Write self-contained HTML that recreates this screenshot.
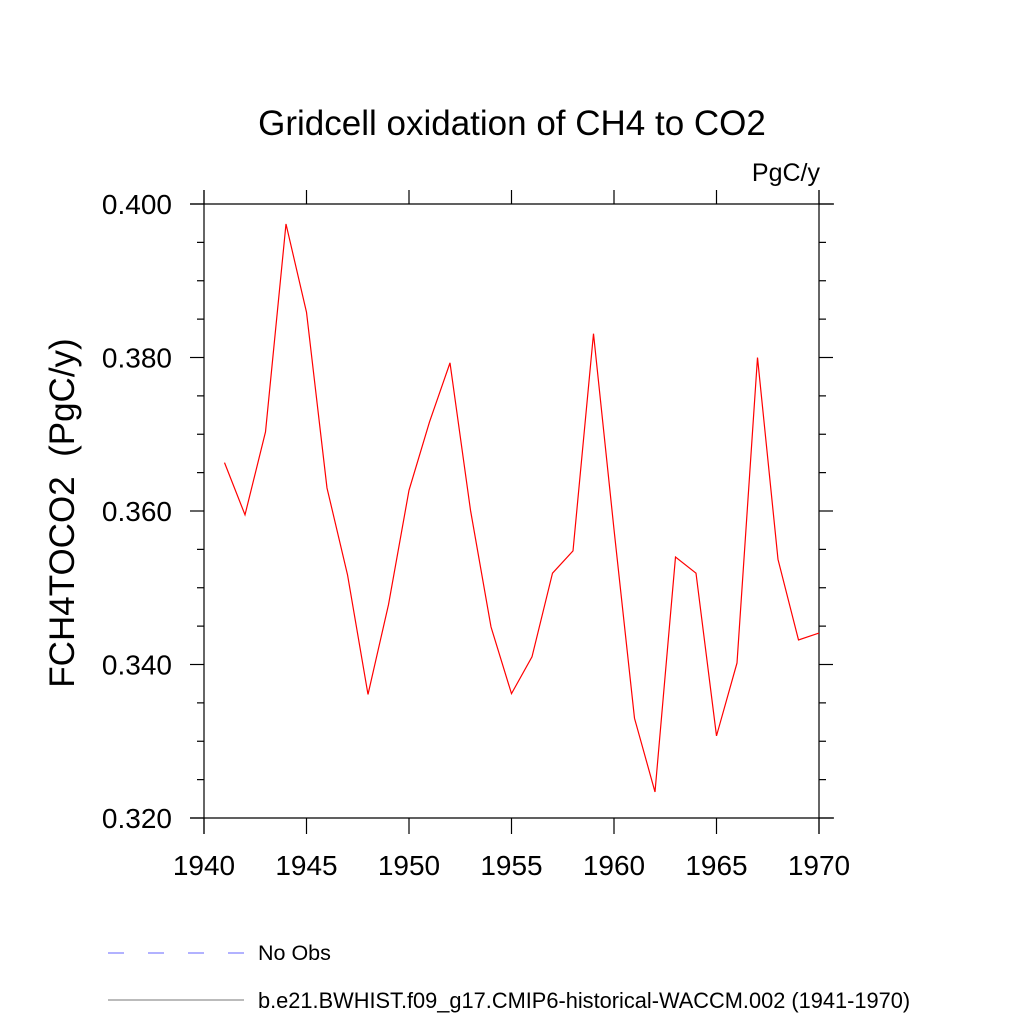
<!DOCTYPE html>
<html><head><meta charset="utf-8"><style>body{margin:0;background:#fff}svg{font-family:"Liberation Sans",sans-serif}</style></head>
<body>
<svg id="c" width="1024" height="1024" xmlns="http://www.w3.org/2000/svg">
<text x="512" y="135" font-size="35" text-anchor="middle">Gridcell oxidation of CH4 to CO2</text>
<text x="820" y="181" font-size="25" text-anchor="end">PgC/y</text>
<text transform="translate(74,513) rotate(-90)" font-size="35" text-anchor="middle" xml:space="preserve">FCH4TOCO2  (PgC/y)</text>
<g id="axes" stroke="#000" stroke-width="1.2" fill="none"></g>
<g id="labels" font-size="28"></g>
<polyline id="series" fill="none" stroke="#ff0000" stroke-width="1.2"/>
<line x1="108" y1="953" x2="244" y2="953" stroke="#6666ff" stroke-dasharray="16,24"/>
<text x="258" y="960" font-size="21.5">No Obs</text>
<line x1="108" y1="1000" x2="244" y2="1000" stroke="#777"/>
<text x="258" y="1008" font-size="21.8">b.e21.BWHIST.f09_g17.CMIP6-historical-WACCM.002 (1941-1970)</text>
</svg>
<script>
const years=[1941,1942,1943,1944,1945,1946,1947,1948,1949,1950,1951,1952,1953,1954,1955,1956,1957,1958,1959,1960,1961,1962,1963,1964,1965,1966,1967,1968,1969,1970];
const values=[0.3663,0.3595,0.3703,0.3974,0.3859,0.3630,0.3517,0.3361,0.3478,0.3627,0.3716,0.3793,0.3601,0.3449,0.3362,0.3410,0.3519,0.3548,0.3831,0.3576,0.3330,0.3234,0.3540,0.3519,0.3307,0.3402,0.3800,0.3537,0.3432,0.3441];
const xTicks=[1940,1945,1950,1955,1960,1965,1970];
const yTicks=[0.320,0.340,0.360,0.380,0.400];
const X=v=>204+(v-1940)*(615/30);
const Y=v=>818-(v-0.32)*(614/0.08);
const NS="http://www.w3.org/2000/svg";
const ax=document.getElementById('axes'),lb=document.getElementById('labels');
function ln(x1,y1,x2,y2,n){const l=document.createElementNS(NS,'line');l.setAttribute('x1',x1);l.setAttribute('y1',y1);l.setAttribute('x2',x2);l.setAttribute('y2',y2);


ax.appendChild(l);}
ln(190,204,834,204,'top-axis');ln(190,818,834,818,'bottom-axis');ln(204,190,204,834,'left-axis');ln(819,190,819,834,'right-axis');
xTicks.forEach(t=>{const x=X(t);ln(x,818,x,834,'x-tick');ln(x,204,x,190,'x-tick-top');
const tx=document.createElementNS(NS,'text');tx.setAttribute('x',x);tx.setAttribute('y',875);tx.setAttribute('text-anchor','middle');tx.textContent=t;


lb.appendChild(tx);});
for(let v=0.32;v<=0.4001;v+=0.005){const y=Y(v);const maj=Math.abs(v*50-Math.round(v*50))<1e-6;const L=maj?14:7;ln(204-L,y,204,y,'y-tick');ln(819,y,819+L,y,'y-tick-right');}
yTicks.forEach(t=>{const tx=document.createElementNS(NS,'text');tx.setAttribute('x',172);tx.setAttribute('y',Y(t)+10);tx.setAttribute('text-anchor','end');tx.textContent=t.toFixed(3);


lb.appendChild(tx);});
document.getElementById('series').setAttribute('points',years.map((y,i)=>X(y)+','+Y(values[i])).join(' '));
</script>
</body></html>
